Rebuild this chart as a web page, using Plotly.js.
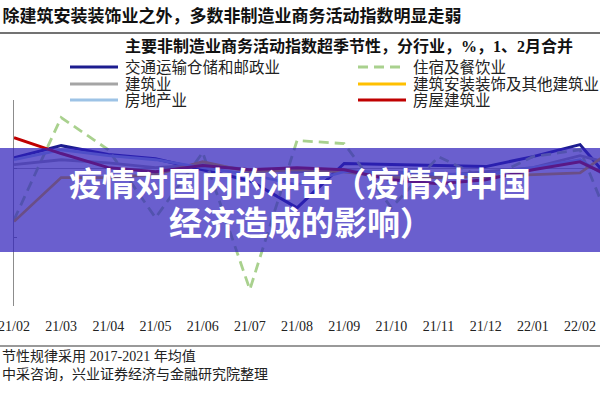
<!DOCTYPE html>
<html>
<head>
<meta charset="utf-8">
<script src="https://cdn.plot.ly/plotly-3.0.1.min.js"></script>
<style>html,body{margin:0;padding:0;background:#fff;}#chart{width:600px;height:400px;}</style>
</head>
<body>
<div id="chart"></div>
<script>
// Categories (months)
var months = ['21/02','21/03','21/04','21/05','21/06','21/07','21/08','21/09','21/10','21/11','21/12','22/01','22/02','22/03'];
// Series values (超季节性, %)
var transport   = [0.32, 0.67, 0.41, 0.29, -0.03, -0.35, -1.14, 0.15, 0.12, 0.09, 0.06, 0.35, 0.70, -0.90];
var hotel       = [-1.49, 1.49, 0.55, -1.43, 0.47, -3.52, 0.82, 0.73, -1.14, 0.35, -0.32, 0.35, 0.55, -2.80];
var construct   = [0.12, 0.26, 0.17, 0.03, 0.12, -0.03, -0.09, -0.03, -0.17, -0.20, -0.09, 0.03, 0.38, 0.03];
var install     = [-1.54, -0.26, -0.26, -0.17, 0.20, -0.09, -0.03, -0.09, -0.26, -0.26, -0.23, -0.17, -0.12, 0.84];
var realestate  = [0.26, 0.55, 0.38, 0.26, 0.03, -0.17, -0.47, -0.09, -0.09, -0.15, -0.17, 0.03, 0.26, -0.61];
var housing     = [0.90, 0.44, 0.03, -0.09, 0.09, -0.03, 0.03, -0.03, -0.32, -0.44, -0.32, -0.03, 0.20, -0.47];
// Series names and colours
var names  = ['交通运输仓储和邮政业','住宿及餐饮业','建筑业','建筑安装装饰及其他建筑业','房地产业','房屋建筑业'];
var colors = ['#1c1c8f','#a9d18e','#a5a5a5','#ffc000','#9dc3e6','#c00000'];
var dashes = ['solid','10px,6px','solid','solid','solid','solid'];
var series = [transport, hotel, construct, install, realestate, housing];

var serif = 'Liberation Serif, "Noto Sans CJK SC", serif';
var cjk = '"Noto Sans CJK SC", sans-serif';

var data = series.map(function (y, i) {
  return {x: months, y: y, name: names[i], type: 'scatter', mode: 'lines',
          line: {color: colors[i], width: (i === 0 || i === 5) ? 3 : 2.8, dash: dashes[i]},
          hoverinfo: 'skip', showlegend: false};
});

// pixel helpers for layout-only placement
var L = 14, T = 100, B = 94, W = 600, H = 400;
var pw = W - L, ph = H - T - B;
function px(x) { return (x - L) / pw; }
function py(y) { return (H - B - y) / ph; }

var shapes = [
  {type: 'line', xref: 'paper', yref: 'paper', x0: px(0), x1: px(600), y0: py(33), y1: py(33),
   line: {color: '#444', width: 1.5}},
  {type: 'line', xref: 'paper', yref: 'paper', x0: px(0), x1: px(600), y0: py(346), y1: py(346),
   line: {color: '#777', width: 1.5}},
  {type: 'rect', xref: 'paper', yref: 'paper', x0: px(0), x1: px(600), y0: py(252), y1: py(148),
   fillcolor: 'rgba(48,33,187,0.72)', line: {width: 0}, layer: 'above'}
];
var annotations = [
  {xref: 'paper', yref: 'paper', x: px(349), y: py(46), xanchor: 'center', yanchor: 'middle',
   text: '<b>主要非制造业商务活动指数超季节性，分行业，%，1、2月合并</b>', showarrow: false,
   font: {family: serif, size: 16, color: '#111'}},
  {xref: 'paper', yref: 'paper', x: px(0), y: py(356), xanchor: 'left', yanchor: 'middle',
   text: '节性规律采用 2017-2021 年均值', showarrow: false,
   font: {family: serif, size: 14, color: '#222'}},
  {xref: 'paper', yref: 'paper', x: px(0), y: py(374), xanchor: 'left', yanchor: 'middle',
   text: '中采咨询，兴业证券经济与金融研究院整理', showarrow: false,
   font: {family: serif, size: 14, color: '#222'}},
  {xref: 'paper', yref: 'paper', x: px(300), y: py(182), xanchor: 'center', yanchor: 'middle',
   text: '<b>疫情对国内的冲击（疫情对中国</b>', showarrow: false,
   font: {family: cjk, size: 33, color: '#ffffff'}},
  {xref: 'paper', yref: 'paper', x: px(301), y: py(221), xanchor: 'center', yanchor: 'middle',
   text: '<b>经济造成的影响）</b>', showarrow: false,
   font: {family: cjk, size: 33, color: '#ffffff'}}
];

// legend (two columns, three rows)
var legCols = [70, 358], legRows = [67, 84, 100];
names.forEach(function (n, i) {
  var c = i % 2, r = Math.floor(i / 2);
  var x0 = legCols[c], y = legRows[r];
  shapes.push({type: 'line', xref: 'paper', yref: 'paper', x0: px(x0), x1: px(x0 + 48),
               y0: py(y), y1: py(y), line: {color: colors[i], width: 3, dash: dashes[i]}});
  annotations.push({xref: 'paper', yref: 'paper', x: px(x0 + 53), y: py(y), xanchor: 'left',
                    yanchor: 'middle', text: n, showarrow: false,
                    font: {family: serif, size: 15.5, color: '#222'}});
});

var layout = {
  width: W, height: H,
  margin: {l: L, r: 0, t: T, b: B, pad: 0},
  paper_bgcolor: '#ffffff', plot_bgcolor: 'rgba(0,0,0,0)',
  showlegend: false,
  title: {text: '<b>除建筑安装装饰业之外，多数非制造业商务活动指数明显走弱</b>',
          font: {family: serif, size: 17, color: '#111'},
          xref: 'container', yref: 'container', x: 0.004, y: 1 - 16/400,
          xanchor: 'left', yanchor: 'middle'},
  xaxis: {type: 'category', range: [0, (W - L) / 47.17],
          showline: false, showgrid: false, zeroline: false, ticks: '',
          tickfont: {family: serif, size: 14, color: '#222'},
          ticklabelstandoff: 10, fixedrange: true, automargin: false},
  yaxis: {range: [-4, 2], tickvals: [-4, -2, 0, 2], ticks: 'inside', ticklen: 3,
          tickcolor: '#888', showticklabels: false, showline: true, linecolor: '#8c8c8c',
          linewidth: 1.2, showgrid: false, zeroline: true, zerolinecolor: '#a8a8a8',
          zerolinewidth: 1, fixedrange: true, automargin: false},
  shapes: shapes,
  annotations: annotations
};

Plotly.newPlot('chart', data, layout, {displayModeBar: false, staticPlot: true});
</script>
</body>
</html>
